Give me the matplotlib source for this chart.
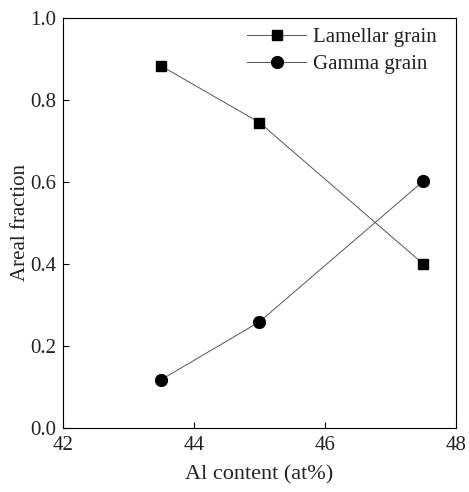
import matplotlib
matplotlib.use("Agg")
import matplotlib.pyplot as plt

plt.rcParams['font.family'] = ['Liberation Serif', 'DejaVu Serif']

al_content = [43.5, 45.0, 47.5]
lamellar = [0.883, 0.745, 0.40]
gamma = [0.118, 0.259, 0.602]
xticks = [42, 44, 46, 48]
yticks = [0.0, 0.2, 0.4, 0.6, 0.8, 1.0]

txt = '#222222'
fig = plt.figure(figsize=(4.69, 4.92), dpi=100)
ax = fig.add_axes([63/469, 1-428/492, (456-63)/469, (428-18)/492])

ax.plot(al_content, lamellar, '-', color='#555555', lw=0.7, marker='s', ms=7,
        mfc='black', mec='black', label='Lamellar grain')
ax.plot(al_content, gamma, '-', color='#555555', lw=0.7, marker='o', ms=8.5,
        mfc='black', mec='black', label='Gamma grain')

ax.set_xlim(42, 48)
ax.set_ylim(0, 1.0)
ax.set_xticks(xticks)
ax.set_yticks(yticks)
ax.set_yticklabels([f"{v:.1f}" for v in yticks])
ax.tick_params(direction='in', length=4, width=0.8, labelsize=15, colors='black',
               labelcolor=txt)
ax.tick_params(axis='x', pad=6)
ax.tick_params(axis='y', pad=5)
for s in ax.spines.values():
    s.set_linewidth(0.8)

ax.set_xlabel('Al content (at%)', fontsize=16, color=txt)
ax.set_ylabel('Areal fraction', fontsize=15, color=txt)
ax.xaxis.set_label_coords(0.5, -0.09)
ax.yaxis.set_label_coords(-0.085, 0.5)

leg = ax.legend(loc='upper right', frameon=False, fontsize=15, handlelength=2.8,
                handletextpad=0.35, borderaxespad=0.0, borderpad=0.45,
                labelspacing=0.35, bbox_to_anchor=(0.975, 1.0))
for t in leg.get_texts():
    t.set_color(txt)

fig.savefig('out.png', dpi=100)
